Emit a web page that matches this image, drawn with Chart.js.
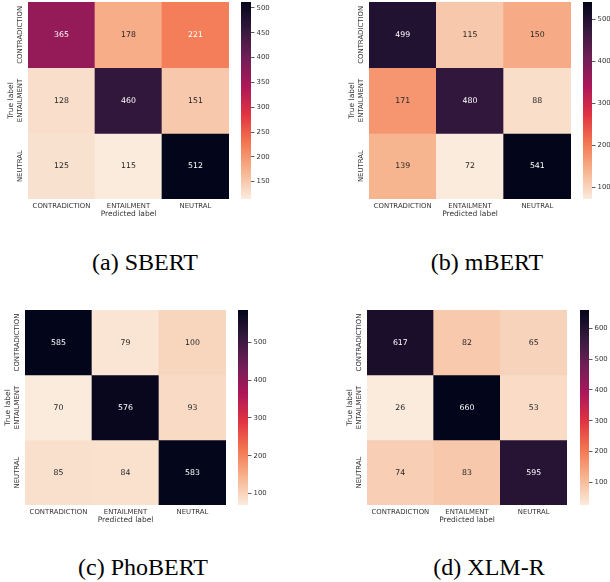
<!DOCTYPE html>
<html>
<head>
<meta charset="utf-8">
<script src="https://cdn.jsdelivr.net/npm/chart.js@4.4.0/dist/chart.umd.min.js"></script>
<style>
  body { margin: 0; background: #fff; }
  #page { position: relative; width: 610px; height: 582px; overflow: hidden; background: #fff; }
  #page canvas { position: absolute; }
  .cap { position: absolute; font-family: "Liberation Serif", "Times New Roman", serif; font-size: 24px; color: #000; transform: translate(-50%, -50%); white-space: nowrap; line-height: 1; }
</style>
</head>
<body>
<div id="page"></div>
<script>
// class names (rows = true label, columns = predicted label)
var classes = ['CONTRADICTION', 'ENTAILMENT', 'NEUTRAL'];

// confusion matrices
var sbert   = [[365, 178, 221], [128, 460, 151], [125, 115, 512]];
var mbert   = [[499, 115, 150], [171, 480, 88],  [139, 72, 541]];
var phobert = [[585, 79, 100],  [70, 576, 93],   [85, 84, 583]];
var xlmr    = [[617, 82, 65],   [26, 660, 53],   [74, 83, 595]];

// colorbar tick labels
var sbertTicks   = [150, 200, 250, 300, 350, 400, 450, 500];
var mbertTicks   = [100, 200, 300, 400, 500];
var phobertTicks = [100, 200, 300, 400, 500];
var xlmrTicks    = [100, 200, 300, 400, 500, 600];

var captions = ['(a) SBERT', '(b) mBERT', '(c) PhoBERT', '(d) XLM-R'];

// layout only: heatmap box [left, top, right, bottom], colorbar [left, right], caption centre
var panels = [
  {data: sbert,   ticks: sbertTicks,   caption: captions[0], heat: [28, 2, 229, 199],   bar: [241, 251], cap: [145, 262]},
  {data: mbert,   ticks: mbertTicks,   caption: captions[1], heat: [369, 2, 571, 199],  bar: [583, 592], cap: [487, 262]},
  {data: phobert, ticks: phobertTicks, caption: captions[2], heat: [25, 310, 226, 505], bar: [238, 248], cap: [143, 567]},
  {data: xlmr,    ticks: xlmrTicks,    caption: captions[3], heat: [367, 310, 567, 505], bar: [580, 589], cap: [489, 567]}
];

// seaborn "rocket" colormap stops (dark -> light)
var rocket = [[3, 5, 26], [53, 25, 62], [112, 31, 87], [173, 23, 89], [225, 51, 66], [243, 118, 81], [246, 180, 143], [250, 235, 221]];

function rgb(c) { return 'rgb(' + c[0] + ',' + c[1] + ',' + c[2] + ')'; }

function rocketColor(t) {
  t = Math.max(0, Math.min(1, t)) * (rocket.length - 1);
  var i = Math.min(Math.floor(t), rocket.length - 2), f = t - i;
  var a = rocket[i], b = rocket[i + 1];
  return [0, 1, 2].map(function (k) { return Math.round(a[k] + (b[k] - a[k]) * f); });
}

// reversed rocket: small values light, large values dark
function cellColor(v, min, max) { return rocketColor(1 - (v - min) / (max - min)); }

function luminance(c) {
  var l = c.map(function (x) { x /= 255; return x <= 0.03928 ? x / 12.92 : Math.pow((x + 0.055) / 1.055, 2.4); });
  return 0.2126 * l[0] + 0.7152 * l[1] + 0.0722 * l[2];
}

var tickFont = {family: 'DejaVu Sans', size: 6.9};
var labelFont = {family: 'DejaVu Sans', size: 7.5};
var textCol = '#333333';
var page = document.getElementById('page');

function addCanvas(left, top, w, h) {
  var cv = document.createElement('canvas');
  cv.width = w; cv.height = h;
  cv.style.left = left + 'px'; cv.style.top = top + 'px';
  cv.style.width = w + 'px'; cv.style.height = h + 'px';
  page.appendChild(cv);
  return cv;
}

// cell numbers + rotated row labels
var annotPlugin = {
  id: 'annot',
  afterDatasetsDraw: function (chart) {
    var ctx = chart.ctx;
    ctx.save();
    ctx.textAlign = 'center';
    ctx.textBaseline = 'middle';
    ctx.font = '7.8px "DejaVu Sans"';
    chart.data.datasets.forEach(function (ds, i) {
      chart.getDatasetMeta(i).data.forEach(function (el, j) {
        ctx.fillStyle = luminance(ds.cellColors[j]) > 0.408 ? '#262626' : '#ffffff';
        ctx.fillText(ds.values[j], el.x, (el.y + el.base) / 2);
      });
    });
    var ys = chart.scales.y;
    ctx.font = tickFont.size + 'px "DejaVu Sans"';
    ctx.fillStyle = textCol;
    classes.forEach(function (c, r) {
      ctx.save();
      ctx.translate(chart.chartArea.left - 7.5, ys.getPixelForValue(r + 0.5));
      ctx.rotate(-Math.PI / 2);
      ctx.fillText(c, 0, 0);
      ctx.restore();
    });
    ctx.restore();
  }
};

function makeHeat(p) {
  var L = p.heat[0], T = p.heat[1], R = p.heat[2], B = p.heat[3];
  var padL = 30, padB = 26, padR = 2;
  var cv = addCanvas(L - padL, T, R - L + padL + padR, B - T + padB);
  var flat = [].concat.apply([], p.data);
  var min = Math.min.apply(null, flat), max = Math.max.apply(null, flat);
  var datasets = p.data.map(function (row, r) {
    var cols = row.map(function (v) { return cellColor(v, min, max); });
    return {
      data: row.map(function () { return [r, r + 1]; }),
      values: row,
      cellColors: cols,
      backgroundColor: cols.map(rgb),
      grouped: false,
      barPercentage: 1,
      categoryPercentage: 1,
      borderWidth: 0
    };
  });
  new Chart(cv, {
    type: 'bar',
    data: {labels: classes, datasets: datasets},
    options: {
      responsive: false,
      animation: false,
      layout: {padding: {right: padR}},
      plugins: {legend: {display: false}, tooltip: {enabled: false}},
      scales: {
        x: {
          grid: {display: false, drawTicks: false},
          border: {display: false},
          ticks: {font: tickFont, color: textCol, padding: 3.5, maxRotation: 0, autoSkip: false},
          title: {display: true, text: 'Predicted label', font: labelFont, color: textCol, padding: {top: 0, bottom: 6.5}},
          afterFit: function (s) { s.height = padB; s.paddingLeft = 0; s.paddingRight = 0; }
        },
        y: {
          min: 0, max: 3, reverse: true,
          grid: {display: false, drawTicks: false},
          border: {display: false},
          ticks: {display: false},
          title: {display: true, text: 'True label', font: labelFont, color: textCol, padding: {top: 9, bottom: 0}},
          afterFit: function (s) { s.width = padL; s.paddingTop = 0; s.paddingBottom = 0; }
        }
      }
    },
    plugins: [annotPlugin]
  });
}

function makeColorbar(p) {
  var L = p.bar[0], R = p.bar[1], T = p.heat[1], B = p.heat[3];
  var axisW = 30;
  var cv = addCanvas(L, T, R - L + axisW, B - T);
  var flat = [].concat.apply([], p.data);
  var min = Math.min.apply(null, flat), max = Math.max.apply(null, flat);
  new Chart(cv, {
    type: 'bar',
    data: {
      labels: ['v'],
      datasets: [{
        data: [[min, max]],
        backgroundColor: function (c) {
          var a = c.chart.chartArea;
          if (!a) return 'transparent';
          var g = c.chart.ctx.createLinearGradient(0, a.bottom, 0, a.top);
          var n = rocket.length - 1;
          rocket.forEach(function (col, i) { g.addColorStop(i / n, rgb(rocket[n - i])); });
          return g;
        },
        barPercentage: 1,
        categoryPercentage: 1,
        borderWidth: 0
      }]
    },
    options: {
      responsive: false,
      animation: false,
      plugins: {legend: {display: false}, tooltip: {enabled: false}},
      scales: {
        x: {display: false},
        y: {
          position: 'right', min: min, max: max,
          grid: {drawOnChartArea: false, drawTicks: true, tickLength: 3.5, color: textCol, lineWidth: 0.8},
          border: {display: false},
          ticks: {font: tickFont, color: textCol, padding: 2},
          afterBuildTicks: function (s) { s.ticks = p.ticks.map(function (v) { return {value: v}; }); },
          afterFit: function (s) { s.width = axisW; s.paddingTop = 0; s.paddingBottom = 0; }
        }
      }
    }
  });
}

panels.forEach(function (p) {
  makeHeat(p);
  makeColorbar(p);
  var d = document.createElement('div');
  d.className = 'cap';
  d.textContent = p.caption;
  d.style.left = p.cap[0] + 'px';
  d.style.top = p.cap[1] + 'px';
  page.appendChild(d);
});
</script>
</body>
</html>
